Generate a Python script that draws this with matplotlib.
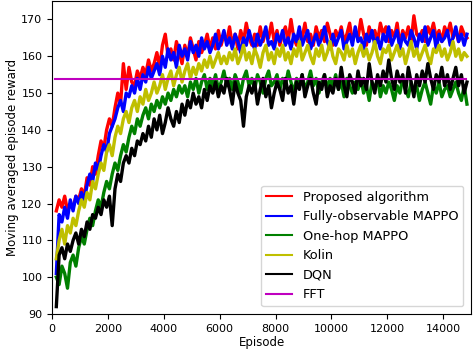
import numpy as np
import matplotlib
matplotlib.use('Agg')
import matplotlib.pyplot as plt

# episodes sampled every 100 from 150 to 14850
episodes = np.arange(150, 14851, 100)

proposed = [
    118, 121, 119, 122, 118, 120, 119, 122, 121, 124,
    122, 127, 125, 130, 128, 133, 137, 135, 140, 143,
    141, 146, 150, 147, 158, 151, 157, 153, 152, 156,
    154, 157, 155, 159, 156, 158, 161, 157, 163, 166,
    160, 162, 159, 164, 161, 158, 163, 160, 165, 162,
    159, 164, 161, 163, 166, 162, 165, 162, 167, 163,
    166, 164, 168, 163, 166, 162, 167, 164, 169, 165,
    163, 166, 163, 168, 164, 167, 165, 169, 164, 167,
    163, 166, 168, 164, 170, 165, 163, 167, 165, 169,
    164, 166, 163, 168, 165, 167, 164, 169, 166, 163,
    167, 165, 168, 164, 166, 169, 164, 167, 165, 170,
    166, 163, 168, 165, 167, 164, 169, 166, 168, 164,
    167, 165, 169, 163, 167, 165, 168, 164, 171, 166,
    165, 167, 164, 168, 166, 169, 165, 167, 164, 168,
    166, 169, 165, 167, 164, 168, 166, 165,
]
fully_obs = [
    101, 117, 115, 119, 116, 121, 118, 122, 120, 123,
    121, 125, 128, 126, 131, 129, 133, 136, 134, 139,
    141, 143, 146, 148, 145, 150, 149, 152, 150, 154,
    151, 155, 153, 157, 154, 156, 158, 155, 160, 157,
    162, 159, 161, 157, 163, 160, 162, 159, 164, 161,
    163, 160, 165, 162, 164, 161, 163, 166, 162, 164,
    167, 163, 165, 162, 166, 164, 161, 165, 163, 167,
    164, 162, 166, 163, 165, 168, 163, 164, 162, 166,
    164, 167, 163, 165, 162, 166, 164, 168, 163, 165,
    167, 162, 164, 166, 163, 165, 168, 164, 162, 166,
    163, 165, 167, 162, 164, 166, 163, 168, 164, 165,
    162, 166, 164, 167, 163, 165, 162, 166, 164, 168,
    163, 165, 167, 162, 166, 164, 163, 167, 165, 162,
    166, 164, 168, 163, 165, 167, 162, 166, 164, 165,
    167, 163, 165, 168, 164, 166, 163, 166,
]
one_hop = [
    100, 98, 103, 101, 97, 104, 106, 103, 108, 111,
    109, 113, 116, 114, 118, 121, 119, 123, 126, 124,
    128, 131, 129, 133, 136, 134, 138, 141, 139, 143,
    141, 144, 146, 143, 147, 145, 148, 146, 149, 147,
    150, 148, 151, 149, 152, 150, 152, 149, 153, 151,
    154, 150, 153, 155, 151, 154, 152, 155, 151, 153,
    156, 152, 154, 151, 155, 153, 150, 154, 156, 152,
    154, 151, 155, 153, 150, 154, 156, 152, 153, 155,
    151, 154, 152, 156, 153, 150, 154, 152, 155, 151,
    153, 156, 152, 154, 150, 153, 155, 151, 154, 152,
    155, 151, 153, 149, 154, 152, 150, 153, 151, 154,
    150, 152, 148, 153, 151, 154, 149, 152, 150, 153,
    151, 148, 152, 150, 154, 151, 149, 153, 150, 152,
    148, 151, 153, 150, 147, 152, 150, 153, 149, 151,
    152, 149, 151, 153, 150, 148, 152, 147,
]
kolin = [
    105, 110, 113, 109, 114, 112, 116, 114, 118, 121,
    119, 123, 121, 126, 124, 128, 131, 129, 134, 136,
    133, 138, 141, 139, 143, 145, 142, 146, 148, 145,
    149, 147, 151, 148, 150, 153, 150, 152, 155, 151,
    154, 156, 152, 155, 157, 153, 156, 158, 154, 157,
    155, 158, 156, 159, 157, 160, 157, 159, 161, 158,
    160, 158, 161, 159, 162, 158, 160, 163, 159, 161,
    158, 162, 160, 157, 161, 163, 159, 161, 158, 162,
    160, 163, 159, 161, 158, 162, 160, 164, 159, 161,
    163, 160, 158, 162, 160, 163, 159, 161, 164, 160,
    158, 162, 161, 159, 163, 160, 162, 158, 161, 163,
    160, 162, 159, 161, 164, 160, 158, 162, 161, 163,
    159, 161, 163, 160, 162, 158, 161, 164, 160, 162,
    159, 161, 163, 160, 158, 162, 161, 163, 160, 162,
    159, 161, 164, 160, 162, 159, 161, 160,
]
dqn = [
    92, 106, 108, 105, 109, 107, 110, 112, 109, 113,
    111, 115, 113, 117, 116, 119, 117, 121, 119, 122,
    114, 124, 128, 126, 131, 133, 131, 135, 133, 137,
    136, 139, 137, 141, 138, 143, 140, 144, 139, 142,
    146, 143, 141, 145, 142, 147, 144, 148, 146, 150,
    147, 149, 146, 151, 148, 152, 150, 153, 149, 152,
    150, 154, 151, 147, 153, 150, 148, 141, 149, 152,
    150, 153, 147, 151, 154, 149, 152, 146, 150, 153,
    151, 148, 154, 150, 152, 147, 153, 151, 155, 149,
    152, 154, 150, 147, 153, 151, 155, 149, 152, 150,
    154, 151, 157, 152, 149, 155, 153, 150, 156, 152,
    154, 151, 158, 153, 150, 155, 152, 156, 153, 159,
    154, 151, 156, 153, 155, 150, 157, 153, 149, 155,
    152, 156, 153, 158, 154, 151, 155, 153, 157, 152,
    155, 151, 154, 157, 152, 155, 150, 153,
]
fft_value = 153.8
fft_span = [100, 14800]

series = [
    ('Proposed algorithm', proposed, 'r'),
    ('Fully-observable MAPPO', fully_obs, 'b'),
    ('One-hop MAPPO', one_hop, 'g'),
    ('Kolin', kolin, 'y'),
    ('DQN', dqn, 'k'),
]

plt.rcParams['font.size'] = 8
fig = plt.figure(figsize=(4.74, 3.52), dpi=100)
ax = fig.add_axes([0.11, 0.108, 0.884, 0.889])

for name, vals, col in series:
    ax.plot(episodes, vals, color=col, linewidth=2.4, label=name)
ax.plot(fft_span, [fft_value, fft_value], color='m', linewidth=1.5, label='FFT')

ax.set_xlim(0, 15000)
ax.set_ylim(90, 175)
ax.set_xticks(np.arange(0, 14001, 2000))
ax.set_yticks(np.arange(90, 171, 10))
ax.set_xlabel('Episode', labelpad=2, fontsize=8.5)
ax.set_ylabel('Moving averaged episode reward', labelpad=2, fontsize=8.5)
leg = ax.legend(loc='lower right', fontsize=9.3, borderaxespad=0.6)
for ln in leg.get_lines():
    ln.set_linewidth(1.5)

fig.savefig('out.png', dpi=100)
